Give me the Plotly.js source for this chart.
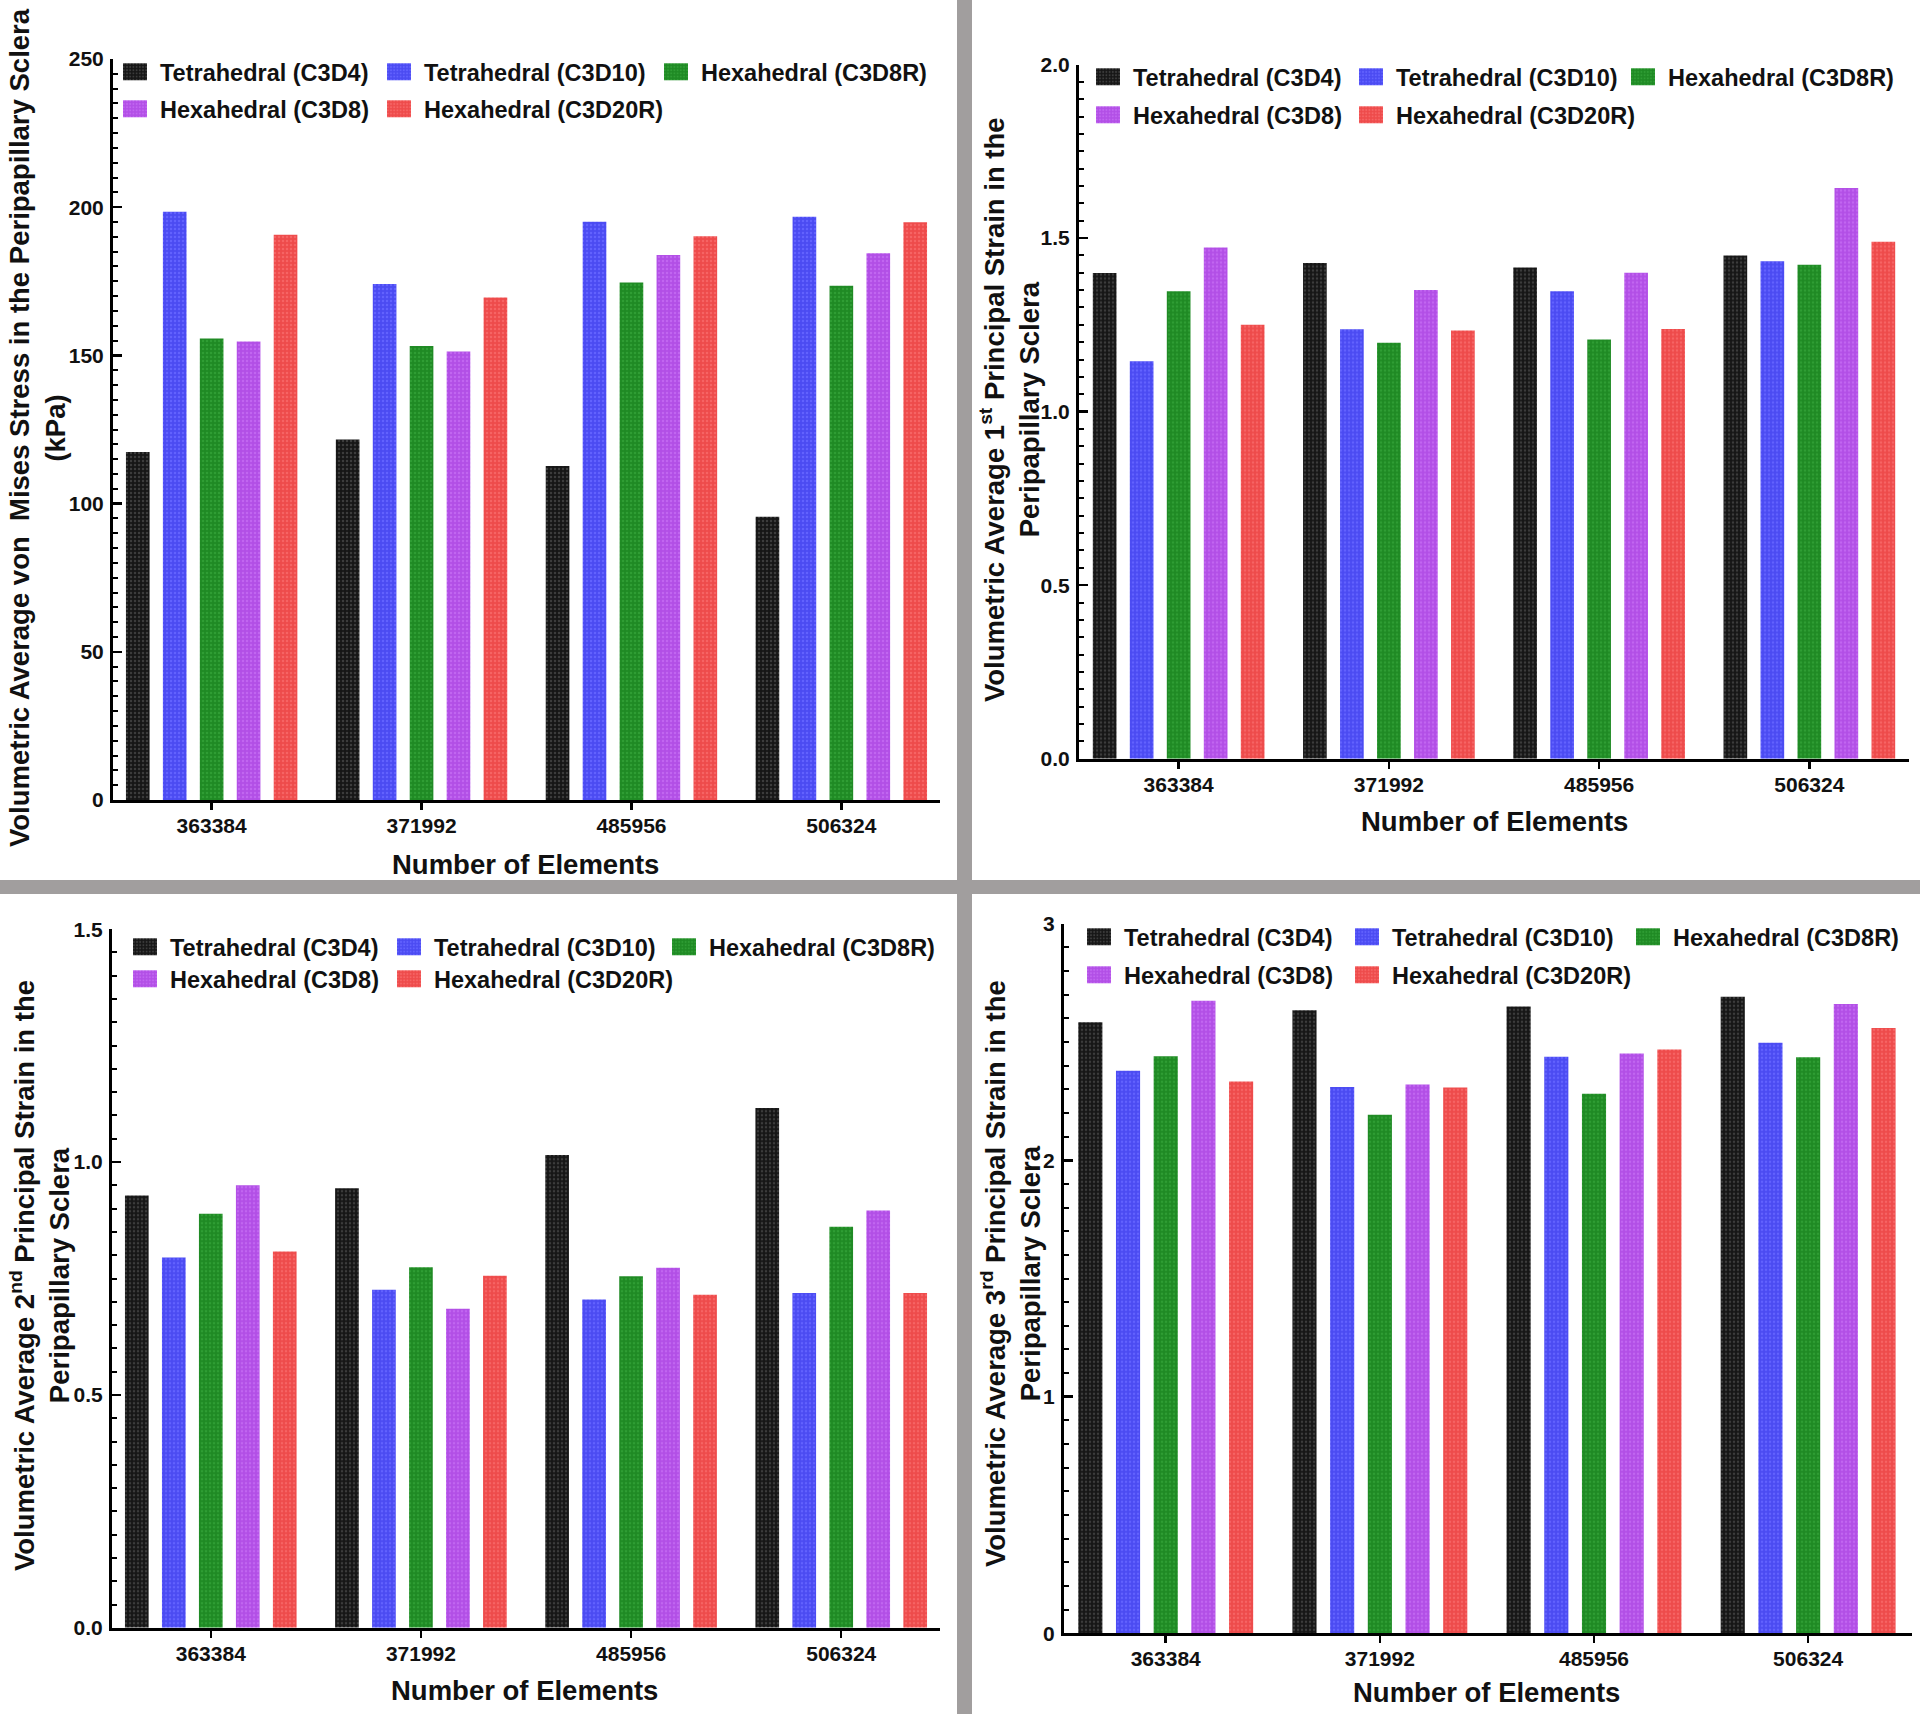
<!DOCTYPE html>
<html>
<head>
<meta charset="utf-8">
<script src="https://cdn.plot.ly/plotly-3.0.1.min.js"></script>
<style>
  html, body { margin: 0; padding: 0; background: #ffffff; }
  #chart { width: 1920px; height: 1714px; }
</style>
</head>
<body>
<div id="chart"></div>
<script>
// ---------- DATA ----------
const categories = ['363384', '371992', '485956', '506324'];
const seriesNames = ['Tetrahedral (C3D4)', 'Tetrahedral (C3D10)', 'Hexahedral (C3D8R)', 'Hexahedral (C3D8)', 'Hexahedral (C3D20R)'];

// Panel A: volumetric average von Mises stress (kPa)
const vonMises_C3D4   = [117.4, 121.6, 112.7, 95.6];
const vonMises_C3D10  = [198.5, 174.1, 195.1, 196.8];
const vonMises_C3D8R  = [155.7, 153.2, 174.6, 173.5];
const vonMises_C3D8   = [154.7, 151.3, 183.9, 184.5];
const vonMises_C3D20R = [190.7, 169.5, 190.2, 194.9];

// Panel B: volumetric average 1st principal strain
const strain1_C3D4   = [1.399, 1.428, 1.415, 1.450];
const strain1_C3D10  = [1.145, 1.237, 1.347, 1.433];
const strain1_C3D8R  = [1.347, 1.198, 1.208, 1.423];
const strain1_C3D8   = [1.473, 1.350, 1.400, 1.644];
const strain1_C3D20R = [1.250, 1.234, 1.238, 1.489];

// Panel C: volumetric average 2nd principal strain
const strain2_C3D4   = [0.928, 0.944, 1.015, 1.116];
const strain2_C3D10  = [0.795, 0.726, 0.705, 0.719];
const strain2_C3D8R  = [0.889, 0.774, 0.755, 0.861];
const strain2_C3D8   = [0.950, 0.685, 0.773, 0.896];
const strain2_C3D20R = [0.808, 0.756, 0.715, 0.719];

// Panel D: volumetric average 3rd principal strain
const strain3_C3D4   = [2.584, 2.634, 2.650, 2.691];
const strain3_C3D10  = [2.379, 2.310, 2.438, 2.497];
const strain3_C3D8R  = [2.440, 2.192, 2.281, 2.436];
const strain3_C3D8   = [2.675, 2.320, 2.452, 2.661];
const strain3_C3D20R = [2.333, 2.308, 2.468, 2.559];

const yTitles = [
  'Volumetric Average von  Mises Stress in the Peripapillary Sclera<br>(kPa)',
  'Volumetric Average 1<sup>st</sup> Principal Strain in the<br>Peripapillary Sclera',
  'Volumetric Average 2<sup>nd</sup> Principal Strain in the<br>Peripapillary Sclera',
  'Volumetric Average 3<sup>rd</sup> Principal Strain in the<br>Peripapillary Sclera'
];
const xTitle = 'Number of Elements';

// ---------- STYLE ----------
const W = 1920, H = 1714;
const FONT = 'Liberation Sans, Arial, Helvetica, sans-serif';
const barColors = ['#161616', '#4b4bf2', '#1f8a24', '#b24fe6', '#ee4b4b'];
const dotColors = ['#3c3c3c', '#6262ff', '#2f9d34', '#c166f0', '#f76464'];

const px = v => v / W;
const py = v => 1 - v / H;

// panel geometry (pixels)
const panels = [
  {x0: 113, x1: 940, yTop: 59, yBot: 800, range: [0, 250], dtick: 50, minor: 5, fmt: 'd',
   xr: [-0.47, 3.47], ytx: 38, yty: 428, xtx: 525, xty: 864,
   leg: {left: 110, r1: 72, r2: 109, w1: 209, w2: 222}},
  {x0: 1079, x1: 1909, yTop: 64.5, yBot: 758.7, range: [0, 2], dtick: 0.5, minor: 0.05, fmt: '.1f',
   xr: [-0.474, 3.474], ytx: 1010, yty: 409, xtx: 1494, xty: 821,
   leg: {left: 1083, r1: 77, r2: 115, w1: 208, w2: 217}},
  {x0: 112, x1: 940, yTop: 929.2, yBot: 1627.8, range: [0, 1.5], dtick: 0.5, minor: 0.05, fmt: '.1f',
   xr: [-0.47, 3.47], ytx: 40, yty: 1276, xtx: 524, xty: 1690,
   leg: {left: 120, r1: 947, r2: 979, w1: 209, w2: 220}},
  {x0: 1064, x1: 1912, yTop: 923.8, yBot: 1633.2, range: [0, 3], dtick: 1, minor: 0.1, fmt: 'd',
   xr: [-0.475, 3.485], ytx: 1011, yty: 1274, xtx: 1486, xty: 1692,
   leg: {left: 1074, r1: 937, r2: 975, w1: 213, w2: 226}}
];

const panelData = [
  [vonMises_C3D4, vonMises_C3D10, vonMises_C3D8R, vonMises_C3D8, vonMises_C3D20R],
  [strain1_C3D4, strain1_C3D10, strain1_C3D8R, strain1_C3D8, strain1_C3D20R],
  [strain2_C3D4, strain2_C3D10, strain2_C3D8R, strain2_C3D8, strain2_C3D20R],
  [strain3_C3D4, strain3_C3D10, strain3_C3D8R, strain3_C3D8, strain3_C3D20R]
];

const traces = [];
const layout = {
  width: W, height: H,
  margin: {l: 0, r: 0, t: 0, b: 0, pad: 0},
  paper_bgcolor: '#ffffff', plot_bgcolor: 'rgba(0,0,0,0)',
  font: {family: FONT, size: 20, color: '#111111'},
  barmode: 'group', bargap: 0.12, bargroupgap: 0.36,
  showlegend: true,
  annotations: [],
  shapes: [
    {type: 'rect', xref: 'paper', yref: 'paper', x0: px(957), x1: px(972), y0: 0, y1: 1,
     fillcolor: '#a19e9e', line: {width: 0}, layer: 'below'},
    {type: 'rect', xref: 'paper', yref: 'paper', x0: 0, x1: 1, y0: py(894), y1: py(880),
     fillcolor: '#a19e9e', line: {width: 0}, layer: 'below'}
  ]
};

panels.forEach((p, i) => {
  const n = i + 1;
  const sfx = n === 1 ? '' : String(n);
  const legA = 2 * i + 1, legB = 2 * i + 2;
  const legName = k => 'legend' + (k === 1 ? '' : k);

  layout['xaxis' + sfx] = {
    domain: [px(p.x0), px(p.x1)], anchor: 'y' + sfx,
    type: 'category', categoryorder: 'array', categoryarray: categories,
    range: p.xr, showline: true, linewidth: 3, linecolor: '#000000',
    ticks: 'outside', ticklen: 7, tickwidth: 2.5, tickcolor: '#000000',
    tickfont: {family: FONT, size: 21, weight: 'bold', color: '#111111'},
    ticklabelstandoff: -2,
    showgrid: false, zeroline: false, fixedrange: true
  };
  layout['yaxis' + sfx] = {
    domain: [py(p.yBot), py(p.yTop)], anchor: 'x' + sfx,
    range: p.range, tick0: 0, dtick: p.dtick, tickformat: p.fmt,
    showline: true, linewidth: 3, linecolor: '#000000',
    ticks: 'inside', ticklen: 9, tickwidth: 2.5, tickcolor: '#000000',
    minor: {dtick: p.minor, tick0: 0, ticks: 'inside', ticklen: 5, tickwidth: 2, tickcolor: '#000000', showgrid: false},
    tickfont: {family: FONT, size: 21, weight: 'bold', color: '#111111'},
    ticklabelstandoff: 2,
    showgrid: false, zeroline: false, fixedrange: true
  };

  const legBase = {
    xanchor: 'left', yanchor: 'middle', orientation: 'h',
    font: {family: FONT, size: 23.5, weight: 'bold', color: '#111111'},
    bgcolor: 'rgba(0,0,0,0)', borderwidth: 0, itemwidth: 40,
    itemclick: false, itemdoubleclick: false, traceorder: 'normal'
  };
  layout[legName(legA)] = Object.assign({}, legBase, {x: px(p.leg.left), y: py(p.leg.r1)});
  layout[legName(legB)] = Object.assign({}, legBase, {x: px(p.leg.left), y: py(p.leg.r2)});

  panelData[i].forEach((vals, s) => {
    // legend row 1: C3D4, C3D10, C3D8R ; row 2: C3D8, C3D20R
    const inRow1 = s <= 2;
    let lw;
    if (s === 0 || s === 3) lw = p.leg.w1;
    else if (s === 1) lw = p.leg.w2;
    const t = {
      type: 'bar', name: seriesNames[s],
      x: categories, y: vals,
      xaxis: 'x' + sfx, yaxis: 'y' + sfx,
      legend: legName(inRow1 ? legA : legB),
      marker: {
        color: barColors[s], line: {width: 0},
        pattern: {shape: '.', size: 4, solidity: 0.3, fgcolor: dotColors[s], bgcolor: barColors[s], fillmode: 'replace'}
      },
      hoverinfo: 'skip'
    };
    if (lw) t.legendwidth = lw;
    traces.push(t);
  });

  layout.annotations.push({
    xref: 'paper', yref: 'paper', x: px(p.ytx), y: py(p.yty),
    xanchor: 'center', yanchor: 'middle', textangle: -90, showarrow: false,
    text: '<b>' + yTitles[i] + '</b>', align: 'center',
    font: {family: FONT, size: 27.5, color: '#111111'}
  });
  layout.annotations.push({
    xref: 'paper', yref: 'paper', x: px(p.xtx), y: py(p.xty),
    xanchor: 'center', yanchor: 'middle', showarrow: false,
    text: '<b>' + xTitle + '</b>',
    font: {family: FONT, size: 27.5, color: '#111111'}
  });
});

Plotly.newPlot('chart', traces, layout, {staticPlot: true, displayModeBar: false}).then(gd => {
  // enlarge legend swatches to match the reference's square keys
  document.querySelectorAll('#chart g.legendpoints path').forEach(el => {
    el.setAttribute('d', 'M12,8.5H-12V-8.5H12Z');
  });
});
</script>
</body>
</html>
